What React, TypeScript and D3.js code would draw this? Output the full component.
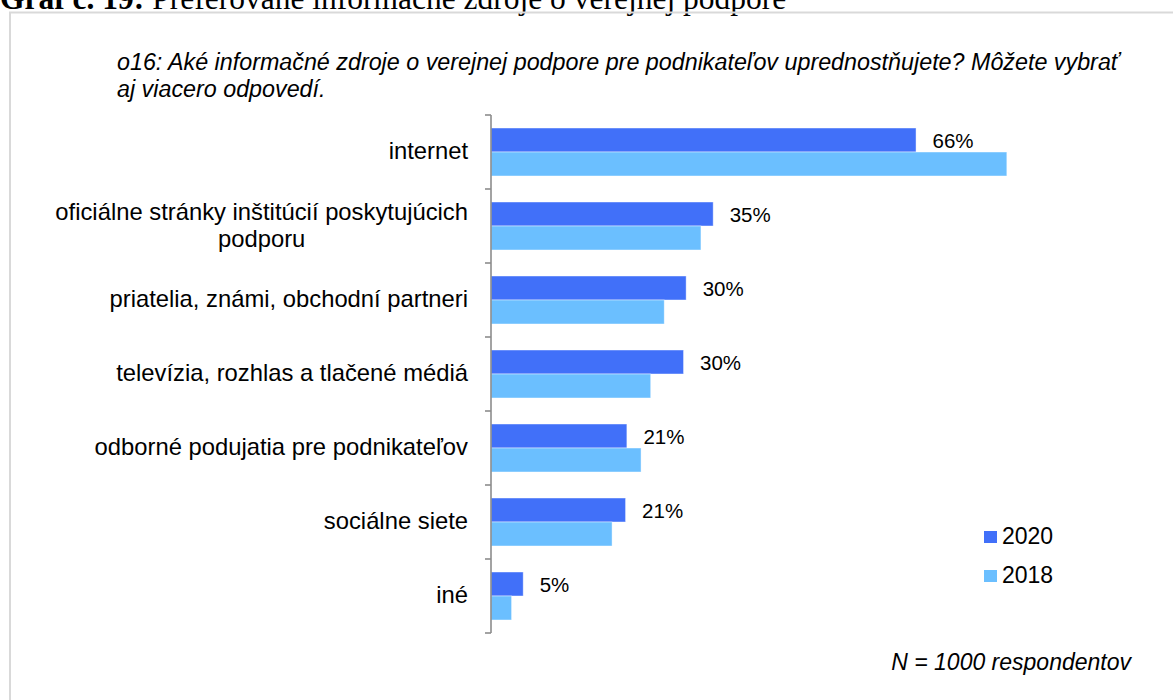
import React, { useEffect, useRef } from "react";
import * as d3 from "d3";

const categories = [
  "internet",
  "oficiálne stránky inštitúcií poskytujúcich\npodporu",
  "priatelia, známi, obchodní partneri",
  "televízia, rozhlas a tlačené médiá",
  "odborné podujatia pre podnikateľov",
  "sociálne siete",
  "iné",
];
const values2020 = [66, 34.5, 30.3, 29.9, 21.1, 20.9, 5.0];
const values2018 = [80.1, 32.6, 26.9, 24.8, 23.3, 18.8, 3.2];
const seriesNames = ["2020", "2018"];
const seriesColors = ["#4170F9", "#6BBFFF"];
const pageTitleBold = "Graf č. 19:";
const pageTitleRest = " Preferované informačné zdroje o verejnej podpore";
const questionLines = [
  "o16: Aké informačné zdroje o verejnej podpore pre podnikateľov uprednostňujete? Môžete vybrať",
  "aj viacero odpovedí.",
];
const footnote = "N = 1000 respondentov";

const W = 1173;
const H = 700;
const SANS = "'Liberation Sans', Arial, sans-serif";

export default function App() {
  const ref = useRef<SVGSVGElement | null>(null);

  useEffect(() => {
    const svg = d3.select(ref.current);
    svg.selectAll("*").remove();

    // page title (cut off at top, as in the source document)
    const pt = svg
      .append("text")
      .attr("x", 0)
      .attr("y", 9)
      .attr("font-family", "'Liberation Serif', 'Times New Roman', serif")
      .attr("font-size", 31.5)
      .attr("fill", "#000");
    pt.append("tspan").attr("font-weight", "bold").text(pageTitleBold);
    pt.append("tspan").text(pageTitleRest);

    // frame
    svg
      .append("path")
      .attr("d", `M10,${H + 5} V12.5 H${W + 5}`)
      .attr("fill", "none")
      .attr("stroke", "#d9d9d9")
      .attr("stroke-width", 2);

    // question
    questionLines.forEach((line, i) => {
      svg
        .append("text")
        .attr("x", 117)
        .attr("y", 70 + i * 26.5)
        .attr("font-family", SANS)
        .attr("font-style", "italic")
        .attr("font-size", 23.3)
        .attr("fill", "#000")
        .text(line);
    });

    const x = d3.scaleLinear().domain([0, 100]).range([491, 1135]);
    const y = d3.scaleBand<string>().domain(categories).range([115, 633]);
    const sub = d3
      .scaleBand<string>()
      .domain(seriesNames)
      .range([13, y.bandwidth() - 13]);

    const series = [values2020, values2018];

    // bars
    series.forEach((vals, si) => {
      svg
        .append("g")
        .selectAll("rect")
        .data(categories.map((c, i) => ({ c, v: vals[i] })))
        .join("rect")
        .attr("x", x(0))
        .attr("y", (d) => (y(d.c) as number) + (sub(seriesNames[si]) as number))
        .attr("width", (d) => x(d.v) - x(0))
        .attr("height", sub.bandwidth())
        .attr("fill", seriesColors[si])
        .attr("stroke", "rgba(255,255,255,0.55)")
        .attr("stroke-width", 0.8);
    });

    // axis
    const axisG = svg.append("g").attr("transform", `translate(${x(0)},0)`);
    axisG
      .append("line")
      .attr("x1", 0)
      .attr("x2", 0)
      .attr("y1", y.range()[0])
      .attr("y2", y.range()[1])
      .attr("stroke", "#8c8c8c")
      .attr("stroke-width", 1.6);
    const tickYs = categories.map((c) => y(c) as number).concat([y.range()[1]]);
    axisG
      .selectAll("line.tick")
      .data(tickYs)
      .join("line")
      .attr("class", "tick")
      .attr("x1", -6)
      .attr("x2", 0)
      .attr("y1", (d) => d)
      .attr("y2", (d) => d)
      .attr("stroke", "#8c8c8c")
      .attr("stroke-width", 1.6);

    // category labels
    const labelRight = 468;
    const lineGap = 27;
    categories.forEach((c) => {
      const lines = c.split("\n");
      const cy = (y(c) as number) + y.bandwidth() / 2;
      const g = svg.append("g");
      const texts = lines.map((ln, li) =>
        g
          .append("text")
          .attr("y", cy + (li - (lines.length - 1) / 2) * lineGap + 7)
          .attr("font-family", SANS)
          .attr("font-size", 23.8)
          .attr("fill", "#000")
          .text(ln)
      );
      const widths = texts.map((t) => (t.node() as SVGTextElement).getComputedTextLength());
      const maxW = Math.max(...widths);
      const centerX = labelRight - maxW / 2;
      texts.forEach((t) => t.attr("x", centerX).attr("text-anchor", "middle"));
    });

    // data labels for 2020
    svg
      .append("g")
      .selectAll("text")
      .data(categories.map((c, i) => ({ c, v: values2020[i] })))
      .join("text")
      .attr("x", (d) => x(d.v) + 16.5)
      .attr(
        "y",
        (d) => (y(d.c) as number) + (sub("2020") as number) + sub.bandwidth() / 2 + 8
      )
      .attr("font-family", SANS)
      .attr("font-size", 20.5)
      .attr("fill", "#000")
      .text((d) => `${Math.round(d.v)}%`);

    // legend
    seriesNames.forEach((s, i) => {
      const by = 544 + i * 39;
      svg
        .append("rect")
        .attr("x", 984)
        .attr("y", by - 13)
        .attr("width", 13)
        .attr("height", 12)
        .attr("fill", seriesColors[i]);
      svg
        .append("text")
        .attr("x", 1002)
        .attr("y", by)
        .attr("font-family", SANS)
        .attr("font-size", 23)
        .attr("fill", "#000")
        .text(s);
    });

    // footnote
    svg
      .append("text")
      .attr("x", 1131)
      .attr("y", 670)
      .attr("text-anchor", "end")
      .attr("font-family", SANS)
      .attr("font-style", "italic")
      .attr("font-size", 23)
      .attr("fill", "#000")
      .text(footnote);
  }, []);

  return (
    <svg
      ref={ref}
      width={W}
      height={H}
      style={{ position: "absolute", left: 0, top: 0, background: "#fff" }}
    />
  );
}
